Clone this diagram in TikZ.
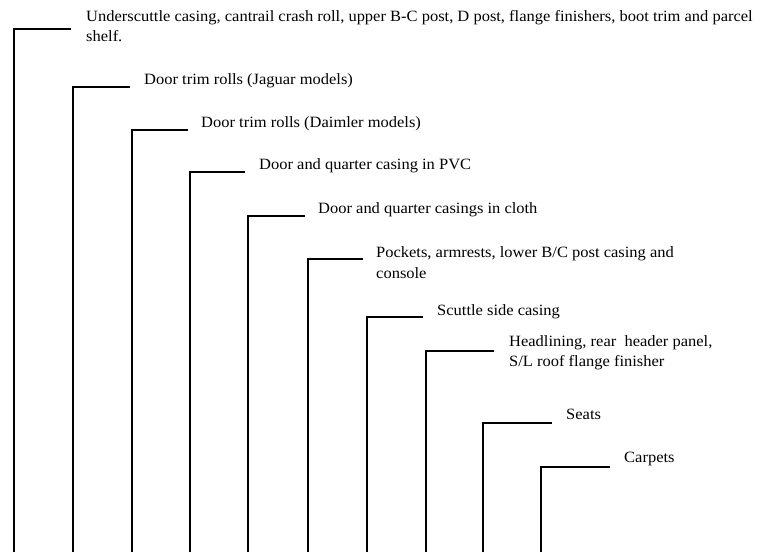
\documentclass[tikz,border=0pt]{standalone}
\usepackage{fontspec}
\setmainfont[FakeStretch=1.05]{Liberation Serif}
\begin{document}
\begin{tikzpicture}[x=1pt,y=-1pt,
  branch/.style={line width=1.4pt,line cap=butt,line join=miter},
  lbl/.style={anchor=base west,inner sep=0pt,align=left,
    font=\fontsize{15.7}{20.5}\selectfont}]
\useasboundingbox (0,0) rectangle (762,552);
% bottoms, corners, ends
\foreach \n/\x/\y/\e in {1/14/29/71, 2/73/87/130, 3/132/130/188, 4/190/172/245,
   5/248/216/305, 6/308/259/363, 7/367/317/423, 8/426/351/494, 9/483/423/552, 10/541/467/610}{
  \coordinate (b\n) at (\x,552);
  \coordinate (c\n) at (\x,\y);
  \coordinate (e\n) at (\e,\y);
}
\foreach \n in {1,...,10}{
  \draw[branch] (b\n) -- (c\n) -- (e\n);
}
% multi-line labels are placed by the baseline of their last line
\node[lbl] (t1) at (86,41.5) {Underscuttle casing, cantrail crash roll, upper B-C post, D post, flange finishers, boot trim and parcel\\shelf.};
\node[lbl] (t2) at (144,84.5) {Door trim rolls (Jaguar models)};
\node[lbl] (t3) at (201,127) {Door trim rolls (Daimler models)};
\node[lbl] (t4) at (259,169) {Door and quarter casing in PVC};
\node[lbl] (t5) at (318,213.5) {Door and quarter casings in cloth};
\node[lbl] (t6) at (376,278) {Pockets, armrests, lower B/C post casing and\\console};
\node[lbl] (t7) at (437,315) {Scuttle side casing};
\node[lbl] (t8) at (509,366.5) {Headlining, rear\ \ header panel,\\S/L roof flange finisher};
\node[lbl] (t9) at (566,419) {Seats};
\node[lbl] (t10) at (624,462) {Carpets};
\end{tikzpicture}
\end{document}
